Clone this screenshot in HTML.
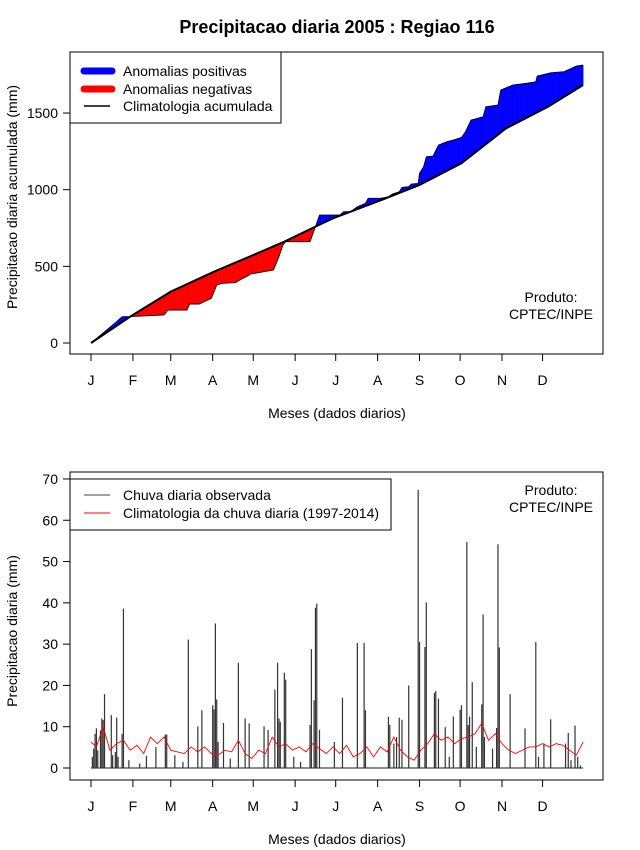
<!DOCTYPE html>
<html><head><meta charset="utf-8"><style>
body{margin:0;background:#fff;}
svg{display:block;font-family:"Liberation Sans",Arial,sans-serif;}
</style></head><body>
<svg id="c" width="640" height="850" xmlns="http://www.w3.org/2000/svg">
<text x="337" y="33" text-anchor="middle" font-size="18" font-weight="bold">Precipitacao diaria 2005 : Regiao 116</text>
<g id="topPanel"></g>
<g id="botPanel"></g>
</svg>
<script>
// ---- data ----
const months = ["J","F","M","A","M","J","J","A","S","O","N","D"];
const monthStartDays = [1,32,60,91,121,152,182,213,244,274,305,335];
const topTicks = [0,500,1000,1500];
const botTicks = [0,10,20,30,40,50,60,70];
const climDays = [1,30,60,92,121,144,167,180,216,244,275,308,339,365];
const climAcc = [0,172,335,465,574,661,759,813,933,1031,1172,1400,1541,1683];
const obsDays = [1,20,24,30,55,58,72,74,81,90,94,98,108,111,116,119,136,140,143,145,163,167,170,185,188,193,198,204,206,215,221,224,229,231,236,238,243,244,247,249,254,258,264,269,275,278,282,291,293,302,304,313,323,330,331,341,351,360,365];
const obsAcc = [0,140,172,172,183,215,215,254,254,291,378,389,394,411,433,450,476,563,639,661,661,759,835,835,857,857,889,911,944,944,954,972,987,1015,1020,1037,1041,1107,1150,1215,1220,1291,1313,1324,1341,1378,1454,1476,1541,1552,1650,1683,1694,1704,1741,1763,1770,1807,1813];
const rainDays = [2,3,4,5,6,8,9,10,11,16,17,19,20,21,24,25,29,37,42,49,56,57,63,69,73,80,83,91,92,93,94,95,99,104,110,115,118,129,132,137,139,140,141,144,145,151,156,163,164,166,167,168,170,181,187,198,203,204,221,222,225,227,229,231,236,243,244,248,249,255,256,258,263,266,269,274,275,279,280,281,283,286,290,291,292,298,301,302,303,311,322,330,332,336,341,352,354,356,359,361,363];
const rainVals = [2.7,4.7,8.3,9.6,4.3,9.1,12,11.6,17.9,12.8,3.1,3.9,12.2,2.7,8.3,38.6,1.9,1.1,2.9,5.1,8.1,8.1,3.1,1.5,31.1,10.1,14,15.2,14.2,35,16.6,6.3,10.9,2.3,25.5,12,10.8,10.1,9.2,19,25.5,12,11.2,23.1,21.4,2.7,1.5,10.4,28.8,16.4,38.8,39.8,9.2,6.3,17,30.3,30.3,14,12.4,10.4,5.9,7.5,12.2,11.7,20,67.4,30.5,29.3,40.1,18.2,18.6,16.8,9.9,2.7,12.5,14.1,15.2,54.7,10.4,12.4,20.8,5.1,15.4,37.2,7.5,4.7,9.7,54.2,29.2,17.9,9.6,30.5,2.7,5.9,11.8,5.9,8.5,1.9,10.3,2.7,0.6];
const climDailyDays = [1,5,10,15,20,25,30,35,40,45,50,55,60,65,70,75,80,85,90,95,100,105,110,115,120,125,130,135,140,145,150,155,160,165,170,175,180,185,190,195,200,205,210,215,220,225,230,235,240,245,250,255,260,265,270,275,280,285,290,295,300,305,310,315,320,325,330,335,340,345,350,355,360,365];
const climDaily = [6.3,5.1,10,4.3,5.9,6.7,4.3,5.5,3.5,7.5,5.9,7.5,4.3,3.9,3.5,5.1,3.9,5.1,3.5,3.1,4.3,3.9,6.7,3.5,2.3,4.3,3.5,7.5,5.1,5.9,4.3,5.1,3.9,5.9,4.7,3.5,5.1,3.5,5.5,2.7,3.5,5.1,2.7,5.1,3.9,7.5,4.3,2.7,1.9,4.3,5.9,8.3,6.7,7.5,5.9,7.1,7.5,8.3,10.8,6.7,8.3,5.9,4.3,3.5,4.3,5.1,5.1,5.9,5.1,5.9,5.5,4.3,3.1,6.3];

// ---- helpers ----
const NS="http://www.w3.org/2000/svg";
const FS=14;
function mk(parent,tag,attrs,text){const e=document.createElementNS(NS,tag);for(const k in attrs)e.setAttribute(k,attrs[k]);if(text!==undefined)e.textContent=text;parent.appendChild(e);return e;}
const xDay = d => 91 + (d-1)*1.352;
const yTop = v => 343 - v*0.1533;
const yBot = v => 768 - v*4.129;
function interp(xs,ys,x){for(let i=1;i<xs.length;i++){if(x<=xs[i]){const t=(x-xs[i-1])/(xs[i]-xs[i-1]);return ys[i-1]+t*(ys[i]-ys[i-1]);}}return ys[ys.length-1];}

function axes(g,boxY,boxH,ticks,yf,ytitle,ytitleY){
  let e=mk(g,'rect',{x:70,y:boxY,width:533,height:boxH,fill:'none',stroke:'#000','stroke-width':1});
  
  
  const by=boxY+boxH;
  e=mk(g,'line',{x1:xDay(monthStartDays[0]),x2:xDay(monthStartDays[11]),y1:by,y2:by,stroke:'#000'});
  
  
  months.forEach((m,i)=>{const x=xDay(monthStartDays[i]);
    mk(g,'line',{x1:x,x2:x,y1:by,y2:by+7,stroke:'#000'});
    const t=mk(g,'text',{x:x,y:by+31,'text-anchor':'middle','font-size':FS},m);
    
    
  });
  e=mk(g,'line',{x1:70,x2:70,y1:yf(ticks[0]),y2:yf(ticks[ticks.length-1]),stroke:'#000'});
  
  
  ticks.forEach(v=>{const y=yf(v);mk(g,'line',{x1:63,x2:70,y1:y,y2:y,stroke:'#000'});
    const t=mk(g,'text',{x:58,y:y+5,'text-anchor':'end','font-size':FS},String(v));
    
    
  });
  let t=mk(g,'text',{x:337,y:by+64,'text-anchor':'middle','font-size':FS},'Meses (dados diarios)');
  
  
  t=mk(g,'text',{x:0,y:0,'text-anchor':'middle','font-size':FS,transform:`translate(17,${ytitleY}) rotate(-90)`},ytitle);
  
  
}

// ---- top panel ----
const topG=document.getElementById('topPanel');
for(let d=1; d<365; d++){
  const o1=interp(obsDays,obsAcc,d),o2=interp(obsDays,obsAcc,d+1);
  const c1=interp(climDays,climAcc,d),c2=interp(climDays,climAcc,d+1);
  const diff=(o1-c1)+(o2-c2);
  if(Math.abs(diff)<0.5) continue;
  const p=mk(topG,'polygon',{points:`${xDay(d)},${yTop(o1)} ${xDay(d+1)+0.3},${yTop(o2)} ${xDay(d+1)+0.3},${yTop(c2)} ${xDay(d)},${yTop(c1)}`,fill:diff>0?'#0000ff':'#ff0000'});
  
  
}
let pts=obsDays.map((d,i)=>`${xDay(d)},${yTop(obsAcc[i])}`).join(' ');
let el=mk(topG,'polyline',{points:pts,fill:'none',stroke:'#000','stroke-width':0.8});


pts=climDays.map((d,i)=>`${xDay(d)},${yTop(climAcc[i])}`).join(' ');
el=mk(topG,'polyline',{points:pts,fill:'none',stroke:'#000','stroke-width':2});


axes(topG,52,302,topTicks,yTop,'Precipitacao diaria acumulada (mm)',197);
const lg=mk(topG,'g',{});


mk(lg,'rect',{x:70,y:52,width:211,height:71,fill:'#fff',stroke:'#000'});
mk(lg,'line',{x1:84,x2:112,y1:71,y2:71,stroke:'#0000ff','stroke-width':7,'stroke-linecap':'round'});
mk(lg,'line',{x1:84,x2:112,y1:89,y2:89,stroke:'#ff0000','stroke-width':7,'stroke-linecap':'round'});
mk(lg,'line',{x1:84,x2:110,y1:106,y2:106,stroke:'#000','stroke-width':1.5});
el=mk(lg,'text',{x:123,y:76,'font-size':FS},'Anomalias positivas');


el=mk(lg,'text',{x:123,y:94,'font-size':FS},'Anomalias negativas');


el=mk(lg,'text',{x:123,y:111,'font-size':FS},'Climatologia acumulada');


el=mk(topG,'text',{x:551,y:302,'text-anchor':'middle','font-size':FS},'Produto:');


el=mk(topG,'text',{x:551,y:319,'text-anchor':'middle','font-size':FS},'CPTEC/INPE');



// ---- bottom panel ----
const botG=document.getElementById('botPanel');
el=mk(botG,'line',{x1:xDay(1),x2:xDay(365),y1:yBot(0),y2:yBot(0),stroke:'#444','stroke-width':1.2});


rainDays.forEach((d,i)=>{
  const b=mk(botG,'line',{x1:xDay(d),x2:xDay(d),y1:yBot(0),y2:yBot(rainVals[i]),stroke:'#333','stroke-width':1.2});
  
  
});
pts=climDailyDays.map((d,i)=>`${xDay(d)},${yBot(climDaily[i])}`).join(' ');
el=mk(botG,'polyline',{points:pts,fill:'none',stroke:'#ff0000','stroke-width':0.9});


axes(botG,472,308,botTicks,yBot,'Precipitacao diaria (mm)',631);
const lg2=mk(botG,'g',{});


mk(lg2,'rect',{x:70,y:479,width:321,height:51,fill:'#fff',stroke:'#000'});
mk(lg2,'line',{x1:84,x2:110,y1:495,y2:495,stroke:'#444'});
mk(lg2,'line',{x1:84,x2:110,y1:513,y2:513,stroke:'#ff0000'});
el=mk(lg2,'text',{x:123,y:500,'font-size':FS},'Chuva diaria observada');


el=mk(lg2,'text',{x:123,y:518,'font-size':FS},'Climatologia da chuva diaria (1997-2014)');


el=mk(botG,'text',{x:551,y:495,'text-anchor':'middle','font-size':FS},'Produto:');


el=mk(botG,'text',{x:551,y:512,'text-anchor':'middle','font-size':FS},'CPTEC/INPE');


</script>
</body></html>
